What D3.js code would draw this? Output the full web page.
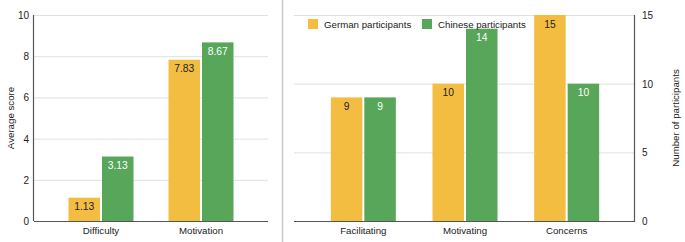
<!DOCTYPE html>
<html><head><meta charset="utf-8">
<script src="https://cdn.jsdelivr.net/npm/d3@7"></script>
<style>body{margin:0;background:#fff}svg{display:block;font-family:"Liberation Sans",Arial,sans-serif}</style>
</head><body><svg id="c" width="685" height="242"></svg>
<script>
const seriesNames = ["German participants", "Chinese participants"];
const colors = ["#F3BD42", "#57A65A"];
const labelColors = ["#222", "#fff"];

const leftCategories = ["Difficulty", "Motivation"];
const leftGerman = [1.13, 7.83];
const leftChinese = [3.13, 8.67];
const leftTicks = [0, 2, 4, 6, 8, 10];

const rightCategories = ["Facilitating", "Motivating", "Concerns"];
const rightGerman = [9, 10, 15];
const rightChinese = [9, 14, 10];
const rightTicks = [0, 5, 10, 15];

const svg = d3.select("#c");
const yTop = 15, yBottom = 221;
const fs = 9.7;

function drawPanel(cfg) {
  const g = svg.append("g");
  const y = d3.scaleLinear().domain(cfg.domain).range([yBottom, yTop]);
  const x = d3.scaleBand().domain(cfg.categories).range(cfg.bandRange).paddingInner(0).paddingOuter(0);
  g.selectAll("line.grid").data(cfg.ticks.filter(t => t > 0)).join("line")
    .attr("x1", cfg.plot[0]).attr("x2", cfg.plot[1])
    .attr("y1", d => y(d) + 0.5).attr("y2", d => y(d) + 0.5)
    .attr("stroke", "#e0e0e0").attr("stroke-width", 1);
  const inner = d3.scaleBand().domain([0, 1]).range([0, 65]).paddingInner(0.06);
  const data = [];
  cfg.categories.forEach((c, i) => {
    [cfg.s0[i], cfg.s1[i]].forEach((v, s) => data.push({c, v, s}));
  });
  const bx = d => x(d.c) + x.bandwidth() / 2 - 32.5 + inner(d.s);
  g.selectAll("rect.bar").data(data).join("rect")
    .attr("x", bx).attr("width", inner.bandwidth())
    .attr("y", d => y(d.v)).attr("height", d => y(0) - y(d.v))
    .attr("fill", d => colors[d.s]);
  g.selectAll("text.val").data(data).join("text")
    .attr("x", d => bx(d) + inner.bandwidth() / 2)
    .attr("y", d => y(d.v) + 12.5)
    .attr("text-anchor", "middle").attr("font-size", fs + 0.6)
    .attr("fill", d => labelColors[d.s]).text(d => cfg.fmt(d.v));
  g.append("line").attr("x1", cfg.plot[0]).attr("x2", cfg.plot[1])
    .attr("y1", yBottom + 0.5).attr("y2", yBottom + 0.5).attr("stroke", "#555").attr("stroke-width", 1.2);
  g.append("line").attr("x1", cfg.axisX + 0.5).attr("x2", cfg.axisX + 0.5)
    .attr("y1", yTop).attr("y2", yBottom).attr("stroke", "#555").attr("stroke-width", 1.2);
  g.selectAll("text.tick").data(cfg.ticks).join("text")
    .attr("x", cfg.tickX).attr("y", d => y(d) + 4)
    .attr("text-anchor", cfg.tickAnchor).attr("font-size", fs + 0.3).attr("fill", "#222")
    .text(d => d);
  g.selectAll("text.cat").data(cfg.categories).join("text")
    .attr("x", d => x(d) + x.bandwidth() / 2).attr("y", 233.5)
    .attr("text-anchor", "middle").attr("font-size", fs).attr("fill", "#222").text(d => d);
  g.append("text").attr("transform", `translate(${cfg.titleX},${(yTop + yBottom) / 2}) rotate(-90)`)
    .attr("text-anchor", "middle").attr("font-size", fs).attr("fill", "#222").text(cfg.title);
}

drawPanel({
  domain: [0, 10], categories: leftCategories, s0: leftGerman, s1: leftChinese, ticks: leftTicks,
  bandRange: [51, 251], plot: [34, 268], axisX: 33, tickX: 29, tickAnchor: "end",
  titleX: 13.5, title: "Average score", fmt: d3.format(".2f")
});
drawPanel({
  domain: [0, 15], categories: rightCategories, s0: rightGerman, s1: rightChinese, ticks: rightTicks,
  bandRange: [312.5, 617.5], plot: [294, 635], axisX: 634, tickX: 642, tickAnchor: "start",
  titleX: 678.5, title: "Number of participants", fmt: d => d
});

svg.append("line").attr("x1", 282.5).attr("x2", 282.5).attr("y1", 0).attr("y2", 242)
  .attr("stroke", "#c8c8c8").attr("stroke-width", 1.5);

const legX = [308, 422];
const leg = svg.append("g").selectAll("g").data(seriesNames).join("g")
  .attr("transform", (d, i) => `translate(${legX[i]},19)`);
leg.append("rect").attr("width", 10).attr("height", 10).attr("fill", (d, i) => colors[i]);
leg.append("text").attr("x", 16).attr("y", 8.5).attr("font-size", fs).attr("fill", "#222").text(d => d);
</script></body></html>
